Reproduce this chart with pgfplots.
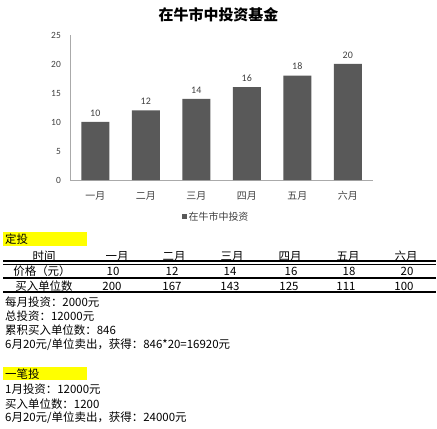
\documentclass[border=0pt]{standalone}
\usepackage{fontspec}
\setmainfont{Noto Sans CJK SC}
\newfontfamily\numfont{Carlito}
\usepackage{pgfplots}
\pgfplotsset{compat=1.18}
\definecolor{barcol}{RGB}{89,89,89}
\definecolor{axcol}{RGB}{170,170,170}
\definecolor{txtcol}{RGB}{64,64,64}
\definecolor{hl}{RGB}{255,255,0}
\newcommand\tbl{\fontsize{11.5}{13}\selectfont}

\begin{document}
\begin{tikzpicture}[x=1bp,y=1bp]
\fill[white] (0,0) rectangle (437,428);

\node[font=\fontsize{15}{18}\selectfont\bfseries] at (218.5,413) {在牛市中投资基金};

\begin{axis}[
  at={(70bp,248bp)}, anchor=south west,
  scale only axis, width=303bp, height=145bp,
  xmin=-0.5, xmax=5.5, ymin=0, ymax=25,
  ybar, bar width=28bp,
  axis x line*=bottom, axis y line*=left,
  axis line style={draw=axcol, line width=0.8bp, -},
  xtick={0,...,5},
  xticklabels={一月,二月,三月,四月,五月,六月},
  ytick={0,5,...,25},
  major tick length=0pt, tick style={draw=none},
  /pgf/number format/assume math mode=true,
  yticklabel style={font=\numfont\fontsize{9.5}{11}\selectfont, text=txtcol,
    anchor=east, inner sep=0pt, xshift=-9bp},
  xticklabel style={font=\fontsize{10}{12}\selectfont, text=txtcol,
    anchor=center, inner sep=0pt, yshift=-15.5bp},
  nodes near coords,
  every node near coord/.append style={font=\numfont\fontsize{10}{12}\selectfont,
    text=txtcol, anchor=center, yshift=9bp},
  legend style={at={(0.482,-0.255)}, anchor=center, draw=none, fill=none,
    font=\fontsize{10}{12}\selectfont, text=txtcol},
  clip=false,
]
\addplot[fill=barcol, draw=none,
  legend image code/.code={\fill[barcol] (0bp,-2.5bp) rectangle (5bp,2.5bp);}]
  coordinates {(0,10) (1,12) (2,14) (3,16) (4,18) (5,20)};
\legend{在牛市中投资}
\end{axis}

% 定投 table
\fill[hl] (3,182) rectangle (87,196);
\node[anchor=west, inner sep=0pt, font=\tbl] at (5,189) {定投};

\begin{scope}[every node/.style={font=\tbl, inner sep=0pt}]
\node at (44,172) {时间};
\node at (117,172) {一月};
\node at (174,172) {二月};
\node at (232,172) {三月};
\node at (290,172) {四月};
\node at (348,172) {五月};
\node at (406,172) {六月};

\node at (42,157) {价格（元）};
\node at (113,157) {10};
\node at (172,157) {12};
\node at (230,157) {14};
\node at (291,157) {16};
\node at (349,157) {18};
\node at (407,157) {20};

\node at (44,142) {买入单位数};
\node at (112,142) {200};
\node at (172,142) {167};
\node at (230,142) {143};
\node at (289,142) {125};
\node at (346,142) {111};
\node at (404,142) {100};
\end{scope}

\draw[line width=2bp] (3,167.5) -- (436,167.5);
\draw[line width=0.9bp] (3,164) -- (436,164);
\draw[line width=2bp] (3,150) -- (436,150);
\draw[line width=2bp] (3,136.5) -- (436,136.5);

\begin{scope}[every node/.style={font=\tbl, inner sep=0pt, anchor=west}]
\node at (5,126) {每月投资：2000元};
\node at (5,112) {总投资：12000元};
\node at (5,98) {累积买入单位数：846};
\node at (5,83) {6月20元/单位卖出，获得：846*20=16920元};
\end{scope}

% 一笔投
\fill[hl] (3,48) rectangle (87,61.3);
\begin{scope}[every node/.style={font=\tbl, inner sep=0pt, anchor=west}]
\node at (5,54) {一笔投};
\node at (5,39) {1月投资：12000元};
\node at (5,24) {买入单位数：1200};
\node at (5,10) {6月20元/单位卖出，获得：24000元};
\end{scope}
\end{tikzpicture}
\end{document}
